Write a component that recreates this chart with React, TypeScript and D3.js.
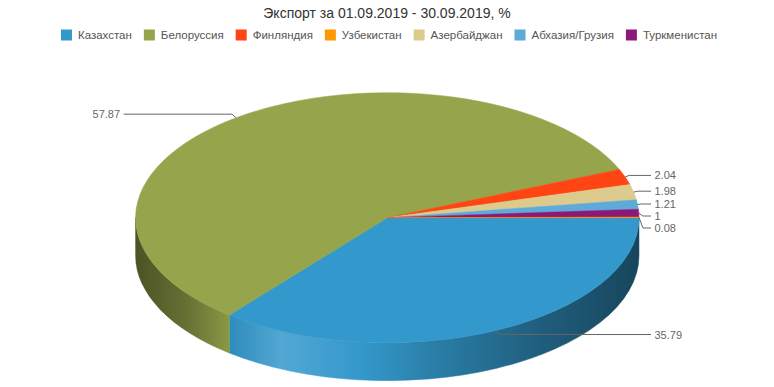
import React from 'react';
import * as d3 from 'd3';

// chart data, slice order as drawn (clockwise from 3 o'clock)
const title = 'Экспорт за 01.09.2019 - 30.09.2019, %';
const countries = ['Казахстан', 'Белоруссия', 'Финляндия', 'Азербайджан', 'Абхазия/Грузия', 'Туркменистан', 'Узбекистан'];
const shares = [35.79, 57.87, 2.04, 1.98, 1.21, 1, 0.08];
const colors = ['#3398cb', '#96a54b', '#ff4513', '#dccb8c', '#5eaad8', '#8a1a7a', '#ff9900'];
// legend shows the series in its own order
const legendOrder = ['Казахстан', 'Белоруссия', 'Финляндия', 'Узбекистан', 'Азербайджан', 'Абхазия/Грузия', 'Туркменистан'];

const width = 774;
const height = 387;
const font = "'Liberation Sans', Arial, Helvetica, sans-serif";

// pie geometry (3D look: flattened ellipse + side wall)
const cx = 387.3;
const cy = 217.7;
const rx = 251.7;
const ry = 125;
const depth = 38;

// brightness along the side wall, left to right
const sideStops: [number, number][] = [
  [0, 0.5], [0.1, 0.68], [0.19, 0.93], [0.29, 1.15], [0.45, 1.0], [0.6, 0.82], [0.8, 0.62], [1, 0.46],
];

const shade = (c: string, k: number) => {
  if (k >= 1) return d3.interpolateRgb(c, '#ffffff')(k - 1);
  const col = d3.rgb(c);
  return d3.rgb(col.r * k, col.g * k, col.b * k).formatHex();
};

const pt = (a: number, dy = 0) => [cx + rx * Math.sin(a), cy - ry * Math.cos(a) + dy];

let measureCtx: CanvasRenderingContext2D | null = null;
const textWidth = (s: string, size: number) => {
  if (!measureCtx) measureCtx = document.createElement('canvas').getContext('2d');
  if (!measureCtx) return s.length * size * 0.55;
  measureCtx.font = `${size}px ${font}`;
  return measureCtx.measureText(s).width;
};

const App = () => {
  const data = countries.map((name, i) => ({ name, value: shares[i], color: colors[i] }));

  const pie = d3.pie<typeof data[0]>()
    .value(d => d.value)
    .sort(null)
    .startAngle(Math.PI / 2)
    .endAngle(Math.PI / 2 + 2 * Math.PI);
  const arcs = pie(data);

  const arc = d3.arc<d3.PieArcDatum<typeof data[0]>>()
    .innerRadius(0)
    .outerRadius(rx);

  // side walls: only the front half (90deg..270deg) is visible
  const sides = arcs.map((a, i) => {
    const a0 = Math.max(a.startAngle, Math.PI / 2);
    const a1 = Math.min(a.endAngle, (3 * Math.PI) / 2);
    if (a1 <= a0) return null;
    const [x0, y0] = pt(a0);
    const [x1, y1] = pt(a1);
    const d = `M${x0},${y0}A${rx},${ry} 0 0 1 ${x1},${y1}L${x1},${y1 + depth}A${rx},${ry} 0 0 0 ${x0},${y0 + depth}Z`;
    return { d, i };
  }).filter(Boolean) as { d: string; i: number }[];

  // data labels, spread apart on each side
  const labels = arcs.map((a, i) => {
    const mid = (a.startAngle + a.endAngle) / 2;
    const side = Math.sin(mid) >= 0 ? 1 : -1;
    const [ex, ey] = pt(mid);
    return { i, side, ex, ey, mid, y: cy - Math.cos(mid) * (ry + 4.5), text: String(a.data.value) };
  });
  [1, -1].forEach(s => {
    const grp = labels.filter(l => l.side === s).sort((p, q) => p.y - q.y);
    for (let k = 1; k < grp.length; k++) {
      if (grp[k].y < grp[k - 1].y + 12) grp[k].y = grp[k - 1].y + 12;
    }
  });

  // legend layout
  const legendSize = 11.5;
  const sym = 11;
  const symGap = 6;
  const itemGap = 12;
  const items = legendOrder.map(name => {
    const idx = countries.indexOf(name);
    return { name, color: colors[idx], w: sym + symGap + textWidth(name, legendSize) };
  });
  const totalW = d3.sum(items, d => d.w) + itemGap * (items.length - 1);
  let lx = (width - totalW) / 2 + 2;
  const legendItems = items.map(it => {
    const o = { ...it, x: lx };
    lx += it.w + itemGap;
    return o;
  });

  return (
    <svg width={width} height={height} style={{ position: 'absolute', left: 0, top: 0, fontFamily: font }}>
      <defs>
        {data.map((d, i) => (
          <linearGradient key={i} id={`side${i}`} gradientUnits='userSpaceOnUse' x1={cx - rx} x2={cx + rx} y1={0} y2={0}>
            {sideStops.map(([o, k], j) => (
              <stop key={j} offset={o} stopColor={shade(d.color, k)} />
            ))}
          </linearGradient>
        ))}
      </defs>
      <rect width={width} height={height} fill='#ffffff' />

      <text x={width / 2} y={17.5} textAnchor='middle' fontSize={14} fill='#333333'>{title}</text>

      <g>
        {legendItems.map(it => (
          <g key={it.name} transform={`translate(${it.x},29.5)`}>
            <rect width={sym} height={sym} fill={it.color} />
            <text x={sym + symGap} y={sym - 1.5} fontSize={legendSize} fill='#555555'>{it.name}</text>
          </g>
        ))}
      </g>

      <g>
        {sides.map(s => (
          <path key={s.i} d={s.d} fill={`url(#side${s.i})`} stroke={`url(#side${s.i})`} strokeWidth={0.5} />
        ))}
      </g>

      <g transform={`translate(${cx},${cy}) scale(1,${ry / rx})`}>
        {arcs.map((a, i) => (
          <path key={i} d={arc(a) || ''} fill={a.data.color} stroke={a.data.color} strokeWidth={0.5} vectorEffect='non-scaling-stroke' />
        ))}
      </g>

      <g>
        {labels.map(l => {
          const connX = cx + l.side * (rx + 12);
          const bx = l.ex + l.side * 4;
          return (
            <g key={l.i}>
              <path d={`M${connX},${l.y}L${bx},${l.y}L${l.ex},${l.ey}`} fill='none' stroke='#666666' strokeWidth={1} />
              <text
                x={cx + l.side * (rx + 15.5)}
                y={l.y + 4}
                textAnchor={l.side > 0 ? 'start' : 'end'}
                fontSize={11}
                fill='#666666'
              >
                {l.text}
              </text>
            </g>
          );
        })}
      </g>
    </svg>
  );
};

export default App;
